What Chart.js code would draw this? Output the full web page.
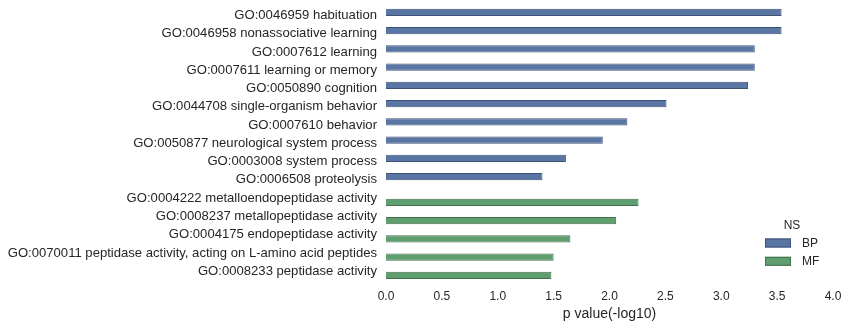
<!DOCTYPE html>
<html>
<head>
<meta charset="utf-8">
<script src="https://cdn.jsdelivr.net/npm/chart.js@4/dist/chart.umd.min.js"></script>
<style>
  html, body { margin: 0; padding: 0; background: #ffffff; }
  #wrap { width: 848px; height: 328px; position: relative; }
</style>
</head>
<body>
<div id="wrap"><canvas id="c" width="848" height="328"></canvas></div>
<script>
const categories = [
  "GO:0046959 habituation",
  "GO:0046958 nonassociative learning",
  "GO:0007612 learning",
  "GO:0007611 learning or memory",
  "GO:0050890 cognition",
  "GO:0044708 single-organism behavior",
  "GO:0007610 behavior",
  "GO:0050877 neurological system process",
  "GO:0003008 system process",
  "GO:0006508 proteolysis",
  "GO:0004222 metalloendopeptidase activity",
  "GO:0008237 metallopeptidase activity",
  "GO:0004175 endopeptidase activity",
  "GO:0070011 peptidase activity, acting on L-amino acid peptides",
  "GO:0008233 peptidase activity"
];
const seriesNames = ["BP", "MF"];
const bpValues = [3.54, 3.54, 3.30, 3.30, 3.24, 2.51, 2.16, 1.94, 1.61, 1.40, null, null, null, null, null];
const mfValues = [null, null, null, null, null, null, null, null, null, null, 2.26, 2.06, 1.65, 1.50, 1.48];
const xTicks = [0.0, 0.5, 1.0, 1.5, 2.0, 2.5, 3.0, 3.5, 4.0];
const legendTitle = "NS";
const xTitle = "p value(-log10)";

const TEXT = '#262626';
const FONT = '"Liberation Sans", Arial, sans-serif';

const legendPlugin = {
  id: 'insideLegend',
  afterDatasetsDraw(chart) {
    const ctx = chart.ctx;
    ctx.save();
    ctx.fillStyle = TEXT;
    ctx.font = '12px ' + FONT;
    ctx.textAlign = 'center';
    ctx.textBaseline = 'middle';
    ctx.fillText(legendTitle, 792, 225.5);
    chart.data.datasets.forEach((ds, i) => {
      const y = 243 + i * 18.3;
      ctx.fillStyle = ds.backgroundColor;
      ctx.fillRect(765, y - 4.5, 26, 9);
      ctx.strokeStyle = ds.borderColor;
      ctx.lineWidth = 1;
      ctx.strokeRect(765.5, y - 4, 25, 8);
      ctx.fillStyle = TEXT;
      ctx.textAlign = 'left';
      ctx.fillText(ds.label, 802, y + 0.5);
    });
    ctx.restore();
  }
};

new Chart(document.getElementById('c'), {
  type: 'bar',
  data: {
    labels: categories,
    datasets: [
      { label: seriesNames[0], data: bpValues, backgroundColor: '#5975a4', borderColor: '#3f5276', borderWidth: 1,
        categoryPercentage: 0.8, barPercentage: 1.0 },
      { label: seriesNames[1], data: mfValues, backgroundColor: '#5f9e6e', borderColor: '#44704f', borderWidth: 1,
        categoryPercentage: 0.8, barPercentage: 1.0 }
    ]
  },
  options: {
    indexAxis: 'y',
    responsive: false,
    animation: false,
    devicePixelRatio: 1,
    layout: { padding: { top: 6.9, right: 15, left: 0, bottom: 0 } },
    plugins: { legend: { display: false }, tooltip: { enabled: false } },
    scales: {
      x: {
        type: 'linear',
        min: 0, max: 4,
        afterBuildTicks(axis) { axis.ticks = xTicks.map(v => ({ value: v })); },
        afterFit(axis) { axis.height = 47.2; axis.paddingLeft = 0; axis.paddingRight = 0; },
        grid: { display: false, drawTicks: false },
        border: { display: false },
        ticks: {
          padding: 8.5,
          color: TEXT,
          font: { family: FONT, size: 12 },
          callback: v => Number(v).toFixed(1)
        },
        title: {
          display: true, text: xTitle, color: TEXT,
          font: { family: FONT, size: 14 },
          padding: { top: 0, bottom: 5.6 }
        }
      },
      y: {
        type: 'category',
        afterFit(axis) { axis.width = 386; axis.paddingTop = 0; axis.paddingBottom = 0; },
        grid: { display: false, drawTicks: false },
        border: { display: false },
        ticks: {
          padding: 9,
          labelOffset: -0.5,
          autoSkip: false,
          color: TEXT,
          font: { family: FONT, size: 13.1 }
        }
      }
    }
  },
  plugins: [legendPlugin]
});
</script>
</body>
</html>
